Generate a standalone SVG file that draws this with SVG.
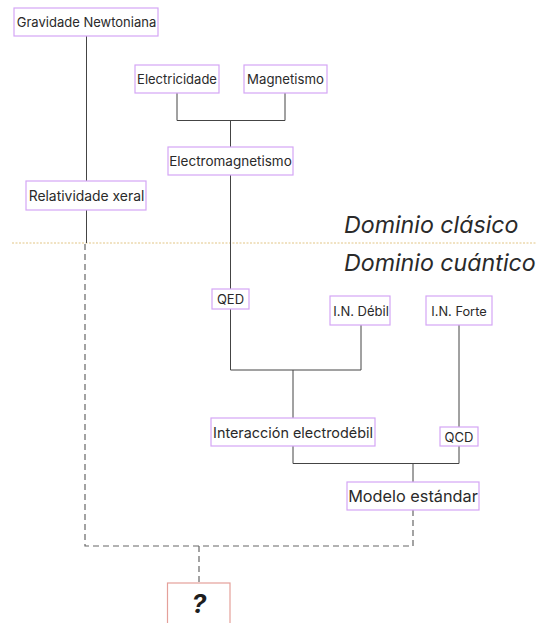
<svg xmlns="http://www.w3.org/2000/svg" width="536" height="623" viewBox="0 0 536 623">
<style>
.box{fill:#ffffff;stroke:#d4a6f5;stroke-width:1.2}
.t{font-family:Inter,"Liberation Sans",sans-serif;font-size:13px;fill:#2a2a2a;text-anchor:middle}
.c{fill:none;stroke:#444;stroke-width:1}
.d{fill:none;stroke:#666;stroke-width:1.2;stroke-dasharray:6 4}
.dom{font-family:Inter,"Liberation Sans",sans-serif;font-size:23.2px;font-style:italic;fill:#2a2a2a}
</style>
<rect width="536" height="623" fill="#ffffff"/>
<line x1="12" y1="243" x2="536" y2="243" stroke="#e2c585" stroke-width="1" stroke-dasharray="2 1.5"/>
<text class="dom" x="344" y="233">Dominio clásico</text>
<text class="dom" x="344" y="271">Dominio cuántico</text>
<g id="connectors">
<path class="c" d="M86.5 36V183"/>
<path class="c" d="M86.5 210V243"/>
<path class="c" d="M177 93V120.5H285V93"/>
<path class="c" d="M230.5 120.5V147"/>
<path class="c" d="M230.5 175V289"/>
<path class="c" d="M230.5 309V370H361V325"/>
<path class="c" d="M293 370V418"/>
<path class="c" d="M459 325V427"/>
<path class="c" d="M293 446V463.5H459V446"/>
<path class="c" d="M413 463.5V482"/>
<path class="d" d="M85 244V546H413V510"/>
<path class="d" d="M199 546V583"/>
</g>
<g id="gravidade"><rect class="box" x="14" y="8" width="144" height="28"/><text class="t" x="86.5" y="27">Gravidade Newtoniana</text></g>
<g id="electricidade"><rect class="box" x="135" y="65" width="84" height="28"/><text class="t" x="177" y="84">Electricidade</text></g>
<g id="magnetismo"><rect class="box" x="244" y="65" width="83" height="28"/><text class="t" x="285.5" y="84" style="font-size:13.2px">Magnetismo</text></g>
<g id="electromagnetismo"><rect class="box" x="168" y="147" width="125" height="28"/><text class="t" x="230.5" y="166" style="font-size:13.5px">Electromagnetismo</text></g>
<g id="relatividade"><rect class="box" x="26" y="181" width="120" height="29"/><text class="t" x="86.5" y="200.5" style="font-size:13.9px">Relatividade xeral</text></g>
<g id="qed"><rect class="box" x="212" y="289" width="37" height="20"/><text class="t" x="230.5" y="304">QED</text></g>
<g id="debil"><rect class="box" x="330" y="296" width="60" height="29"/><text class="t" x="361" y="315.5">I.N. Débil</text></g>
<g id="forte"><rect class="box" x="426" y="296" width="66" height="29"/><text class="t" x="459" y="315.5" style="font-size:12.8px">I.N. Forte</text></g>
<g id="electrodebil"><rect class="box" x="211" y="418" width="164" height="28"/><text class="t" x="293" y="437.5" style="font-size:14.4px">Interacción electrodébil</text></g>
<g id="qcd"><rect class="box" x="440" y="427" width="38" height="19"/><text class="t" x="459" y="441.5">QCD</text></g>
<g id="modelo"><rect class="box" x="347" y="482" width="132" height="28"/><text class="t" x="413" y="502" style="font-size:16.3px">Modelo estándar</text></g>
<g id="incognita"><rect x="167.5" y="583" width="62.5" height="45" fill="#ffffff" stroke="#e4a09a" stroke-width="1.2"/><text x="199" y="613" style="font-family:Inter,'Liberation Sans',sans-serif;font-size:26px;font-weight:bold;font-style:italic;fill:#1e1e1e;text-anchor:middle">?</text></g>
</svg>
